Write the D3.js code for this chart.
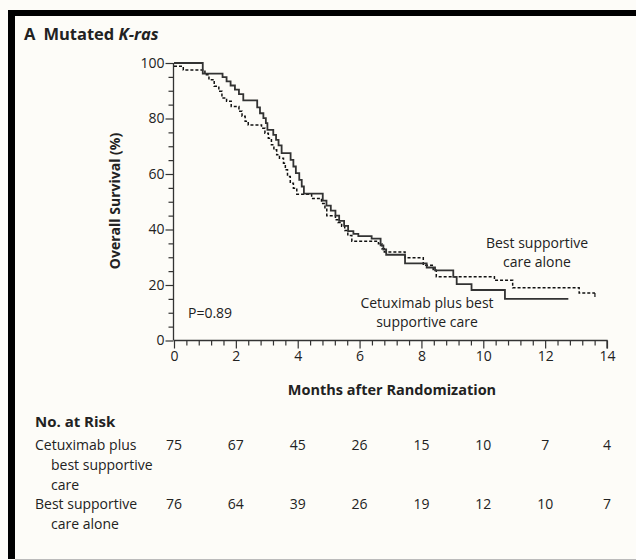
<!DOCTYPE html>
<html>
<head>
  <meta charset="utf-8">
  <title>Mutated K-ras overall survival</title>
  <style>
    body { margin: 0; background: #fff; }
    svg text { font-family: "Liberation Sans Narrow", "Open Sans", sans-serif; fill: #222; }
  </style>
</head>
<body>
  <svg width="636" height="560"></svg>
  <script src="https://d3js.org/d3.v7.min.js"></script>
  <script>

  // data
  var cetuxTimes = [0, 0.93, 1.57, 1.70, 1.83, 1.97, 2.10, 2.24, 2.69, 2.78, 2.89, 2.97, 3.02, 3.21, 3.30, 3.38, 3.48, 3.77, 3.86, 3.94, 4.05, 4.13, 4.20, 4.81, 4.93, 5.07, 5.22, 5.34, 5.50, 5.63, 5.80, 5.96, 6.39, 6.68, 6.77, 6.86, 7.47, 8.17, 8.44, 9.03, 9.14, 9.62, 10.70, 12.75];
  var cetuxSurv  = [100, 96.2, 94.9, 93.4, 91.9, 90.4, 88.8, 86.5, 84.0, 81.9, 80.1, 78.3, 75.9, 74.1, 72.3, 70.3, 67.5, 65.1, 62.7, 60.3, 57.9, 55.5, 52.9, 50.4, 48.6, 46.8, 45.0, 43.1, 41.3, 39.4, 38.4, 37.6, 36.7, 34.3, 32.8, 30.9, 27.8, 26.3, 25.3, 22.9, 20.3, 18.2, 15.0, 15.0];

  var bscTimes = [0, 0.3, 1.0, 1.13, 1.3, 1.45, 1.55, 1.7, 1.85, 2.1, 2.2, 2.3, 2.4, 2.83, 2.94, 3.05, 3.15, 3.23, 3.32, 3.41, 3.54, 3.6, 3.67, 3.76, 3.86, 3.97, 4.45, 4.77, 4.88, 4.94, 5.22, 5.30, 5.42, 5.52, 5.62, 5.75, 6.61, 6.72, 6.80, 7.47, 8.06, 8.38, 8.48, 10.36, 10.95, 13.10, 13.61];
  var bscSurv  = [98.8, 97.5, 95.8, 94.0, 91.6, 89.8, 87.4, 86.2, 84.3, 82.6, 80.8, 79.0, 77.7, 76.5, 74.7, 72.9, 70.5, 68.7, 66.9, 65.7, 63.9, 61.5, 59.1, 56.7, 54.9, 52.7, 51.2, 49.4, 47.6, 45.0, 43.5, 42.5, 41.2, 39.6, 37.8, 35.8, 34.9, 33.1, 31.9, 29.8, 27.1, 25.3, 23.0, 21.7, 19.0, 17.1, 17.1];

  var riskMonths = [0, 2, 4, 6, 8, 10, 12, 14];
  var riskCetux  = [75, 67, 45, 26, 15, 10, 7, 4];
  var riskBSC    = [76, 64, 39, 26, 19, 12, 10, 7];

  var svg = d3.select("svg");

  // background + frame
  svg.append("rect").attr("width", 636).attr("height", 560).attr("fill", "#fdfcf8");
  svg.append("rect").attr("x", 8).attr("y", 10).attr("width", 628).attr("height", 6).attr("fill", "#000");
  svg.append("rect").attr("x", 8).attr("y", 10).attr("width", 7).attr("height", 549).attr("fill", "#000");
  svg.append("line").attr("x1", 15).attr("x2", 636).attr("y1", 559.5).attr("y2", 559.5)
    .attr("stroke", "#bbb").attr("stroke-width", 1);

  // title
  var title = svg.append("text").attr("x", 24).attr("y", 40).attr("font-size", 16.5);
  title.append("tspan").attr("font-weight", "bold").text("A");
  title.append("tspan").attr("dx", 8).attr("font-weight", "bold").text("Mutated ");
  title.append("tspan").attr("font-weight", "bold").attr("font-style", "italic").text("K-ras");

  var x = d3.scaleLinear().domain([0, 14]).range([174, 607]);
  var y = d3.scaleLinear().domain([0, 100]).range([340.5, 63]);

  // y axis: minor ticks every 5, labels every 20
  var yAxis = d3.axisLeft(y)
    .tickValues(d3.range(0, 101, 5))
    .tickSize(5)
    .tickFormat(function(d) { return d % 20 === 0 ? d : ""; });
  var gy = svg.append("g").attr("transform", "translate(173.5,0)").call(yAxis);
  gy.selectAll(".tick line").attr("x2", function(d) { return d % 20 === 0 ? -8 : -5; });
  gy.selectAll(".tick text").attr("x", -9).attr("font-size", 14);

  // x axis: minor ticks every 0.4, labels every 2
  var xAxis = d3.axisBottom(x)
    .tickValues(d3.range(0, 35 + 1).map(function(i) { return +(i * 0.4).toFixed(1); }))
    .tickSize(5)
    .tickFormat(function(d) { return d % 2 === 0 ? d : ""; });
  var gx = svg.append("g").attr("transform", "translate(0,340.5)").call(xAxis);
  gx.selectAll(".tick line").attr("y2", function(d) { return d % 2 === 0 ? 8 : 5; });
  gx.selectAll(".tick text").attr("y", 11).attr("font-size", 14);

  [gx, gy].forEach(function(g) {
    g.select(".domain").attr("stroke", "#333").attr("stroke-width", 1.3);
    g.selectAll(".tick line").attr("stroke", "#333").attr("stroke-width", 1.2);
    g.selectAll(".tick text").attr("fill", "#222").attr("font-family", null);
  });
  gy.select(".domain").attr("d", "M0," + y(100) + "V" + y(0));
  gx.select(".domain").attr("d", "M" + x(0) + ",0H" + x(14) + "V8");

  // survival curves
  var line = d3.line()
    .x(function(d) { return x(d[0]); })
    .y(function(d) { return y(d[1]); })
    .curve(d3.curveStepAfter);

  svg.append("path")
    .datum(d3.zip(bscTimes, bscSurv))
    .attr("fill", "none")
    .attr("stroke", "#111")
    .attr("stroke-width", 1.5)
    .attr("stroke-dasharray", "3,2")
    .attr("d", line);
  // censor tick at end of dashed curve
  svg.append("line")
    .attr("x1", x(13.61)).attr("x2", x(13.61))
    .attr("y1", y(17.1)).attr("y2", y(17.1) + 4)
    .attr("stroke", "#111").attr("stroke-width", 1.2);

  svg.append("path")
    .datum(d3.zip(cetuxTimes, cetuxSurv))
    .attr("fill", "none")
    .attr("stroke", "#333")
    .attr("stroke-width", 1.8)
    .attr("d", line);

  // axis titles
  svg.append("text")
    .attr("transform", "translate(120,201) rotate(-90)")
    .attr("text-anchor", "middle")
    .attr("font-size", 14)
    .attr("font-weight", "bold")
    .text("Overall Survival (%)");

  svg.append("text")
    .attr("x", 392).attr("y", 395)
    .attr("text-anchor", "middle")
    .attr("font-size", 14.5)
    .attr("font-weight", "bold")
    .text("Months after Randomization");

  svg.append("text").attr("x", 188).attr("y", 318).attr("font-size", 14).text("P=0.89");

  // curve labels
  svg.append("text").attr("x", 537).attr("y", 248).attr("text-anchor", "middle").attr("font-size", 14).text("Best supportive");
  svg.append("text").attr("x", 537).attr("y", 267).attr("text-anchor", "middle").attr("font-size", 14).text("care alone");
  svg.append("text").attr("x", 427).attr("y", 308).attr("text-anchor", "middle").attr("font-size", 14).text("Cetuximab plus best");
  svg.append("text").attr("x", 427).attr("y", 327).attr("text-anchor", "middle").attr("font-size", 14).text("supportive care");

  // number at risk table
  svg.append("text").attr("x", 35).attr("y", 427).attr("font-size", 15).attr("font-weight", "bold").text("No. at Risk");
  var rowLabels = [
    { t: "Cetuximab plus", x: 35, y: 450 },
    { t: "best supportive", x: 51, y: 470 },
    { t: "care", x: 51, y: 490 },
    { t: "Best supportive", x: 35, y: 509 },
    { t: "care alone", x: 51, y: 529 }
  ];
  svg.selectAll(".row-label").data(rowLabels).enter().append("text")
    .attr("class", "row-label")
    .attr("x", function(d) { return d.x; })
    .attr("y", function(d) { return d.y; })
    .attr("font-size", 14)
    .text(function(d) { return d.t; });

  [[riskCetux, 450], [riskBSC, 509]].forEach(function(r) {
    svg.selectAll(null).data(r[0]).enter().append("text")
      .attr("x", function(d, i) { return x(riskMonths[i]); })
      .attr("y", r[1])
      .attr("text-anchor", "middle")
      .attr("font-size", 14)
      .text(function(d) { return d; });
  });
  </script>
</body>
</html>
